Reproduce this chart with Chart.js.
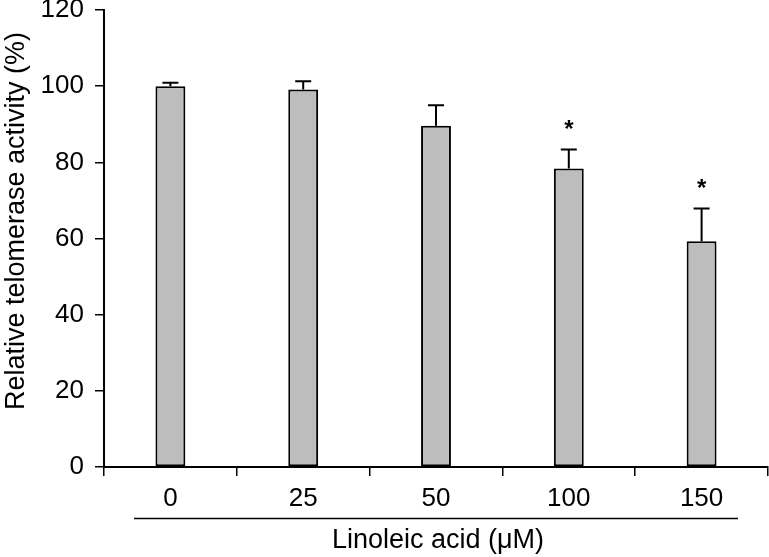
<!DOCTYPE html>
<html>
<head>
<meta charset="utf-8">
<script src="https://cdn.jsdelivr.net/npm/chart.js@4"></script>
<style>
  html, body { margin: 0; padding: 0; background: #fff; }
  #wrap { width: 769px; height: 557px; }
</style>
</head>
<body>
<div id="wrap"><canvas id="telomeraseChart" width="769" height="557"></canvas></div>
<script>
// Данные с рисунка
const doses = ['0', '25', '50', '100', '150'];
const activity = [100, 99.1, 89.6, 78.4, 59.3];
const errors = [0.9, 2.2, 5.4, 5.0, 8.6];
const significant = [false, false, false, true, true];
const yTicks = [0, 20, 40, 60, 80, 100, 120];

const FONT = '"Liberation Sans", Arial, sans-serif';

// Планки погрешностей, звёздочки и подписи осей
const annotationsPlugin = {
  id: 'annotations',
  afterDatasetsDraw(chart) {
    const ctx = chart.ctx;
    const y = chart.scales.y;
    const meta = chart.getDatasetMeta(0);

    ctx.save();
    ctx.strokeStyle = '#000';
    ctx.fillStyle = '#000';
    ctx.lineWidth = 2;
    meta.data.forEach((bar, i) => {
      const cx = bar.x;
      const top = y.getPixelForValue(activity[i]);
      const errTop = y.getPixelForValue(activity[i] + errors[i]);
      ctx.beginPath();
      ctx.moveTo(cx, top);
      ctx.lineTo(cx, errTop);
      ctx.moveTo(cx - 8, errTop);
      ctx.lineTo(cx + 8, errTop);
      ctx.stroke();
      if (significant[i]) {
        ctx.font = 'bold 24px ' + FONT;
        ctx.textAlign = 'center';
        ctx.textBaseline = 'middle';
        ctx.fillText('*', cx, errTop - 19);
      }
    });

    // линия группы под подписями
    ctx.lineWidth = 1.5;
    ctx.beginPath();
    ctx.moveTo(134, 518.5);
    ctx.lineTo(738, 518.5);
    ctx.stroke();

    ctx.font = '27px ' + FONT;
    ctx.textAlign = 'center';
    ctx.textBaseline = 'alphabetic';
    ctx.fillText('Linoleic acid (\u03bcM)', 438, 548);

    ctx.translate(24, 221);
    ctx.rotate(-Math.PI / 2);
    ctx.fillText('Relative telomerase activity (%)', 0, 0);
    ctx.restore();
  }
};

new Chart(document.getElementById('telomeraseChart'), {
  type: 'bar',
  data: {
    labels: doses,
    datasets: [{
      data: activity,
      backgroundColor: '#bdbdbd',
      borderColor: '#000',
      borderWidth: 2,
      borderSkipped: false,
      categoryPercentage: 1,
      barPercentage: 0.225
    }]
  },
  options: {
    responsive: false,
    animation: false,
    devicePixelRatio: 1,
    layout: { padding: { top: 10, right: 1, left: 0, bottom: 0 } },
    plugins: {
      legend: { display: false },
      tooltip: { enabled: false }
    },
    scales: {
      x: {
        offset: true,
        grid: {
          offset: true,
          drawOnChartArea: false,
          drawTicks: true,
          tickLength: 9,
          color: '#000',
          lineWidth: 1.5
        },
        border: { display: true, color: '#000', width: 2 },
        ticks: {
          color: '#000',
          font: { family: FONT, size: 26 },
          padding: 7,
          maxRotation: 0
        },
        afterFit(scale) {
          scale.height = 90;
          scale.paddingLeft = 0;
          scale.paddingRight = 0;
        }
      },
      y: {
        min: 0,
        max: 120,
        afterBuildTicks(scale) {
          scale.ticks = yTicks.map(v => ({ value: v }));
        },
        grid: {
          drawOnChartArea: false,
          drawTicks: true,
          tickLength: 9,
          color: '#000',
          lineWidth: 1.5
        },
        border: { display: true, color: '#000', width: 2 },
        ticks: {
          color: '#000',
          font: { family: FONT, size: 26 },
          padding: 11
        },
        afterFit(scale) {
          scale.width = 104;
          scale.paddingTop = 0;
          scale.paddingBottom = 0;
        }
      }
    }
  },
  plugins: [annotationsPlugin]
});
</script>
</body>
</html>
